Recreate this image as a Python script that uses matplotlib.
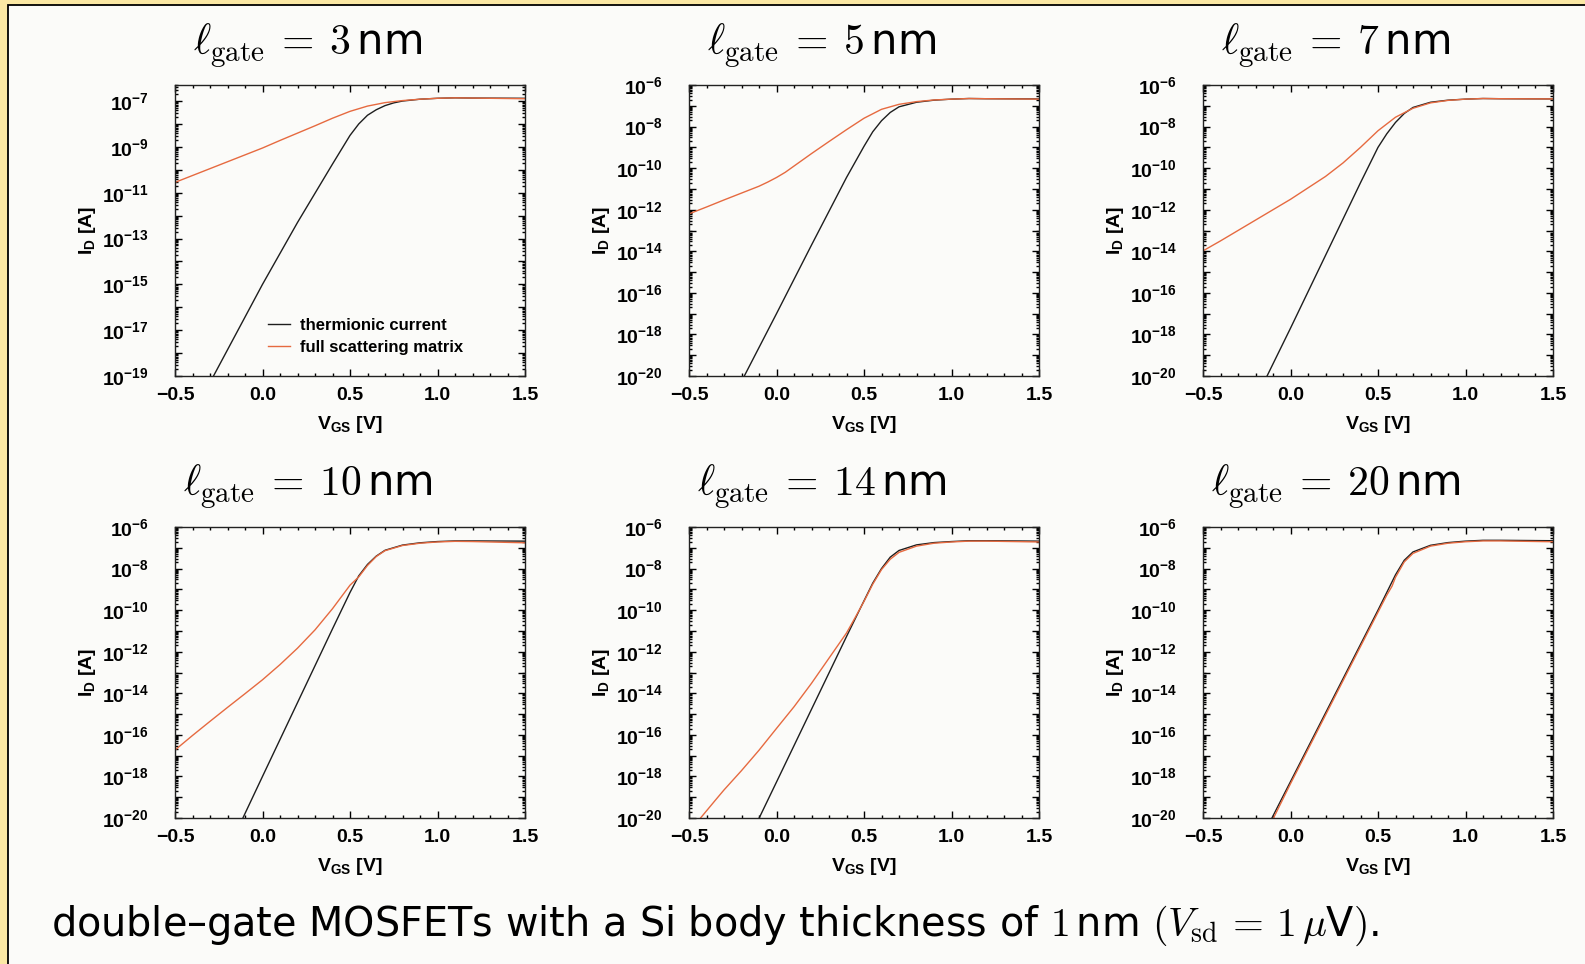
import numpy as np
import matplotlib
matplotlib.use("Agg")
import matplotlib.pyplot as plt
from matplotlib.patches import Rectangle
from matplotlib.ticker import LogLocator, MultipleLocator, FuncFormatter, NullFormatter

# -------------------------
# Data (log10 of I_D in A vs V_GS in V)
# -------------------------
GATE_LENGTHS = [3, 5, 7, 10, 14, 20]

V_T3 = [-0.28, 0.0, 0.2, 0.4, 0.46, 0.5, 0.55, 0.6, 0.65, 0.7, 0.75, 0.8, 0.9, 1.0, 1.1, 1.2, 1.5]
LOG_T3 = [-19.0, -15.0, -12.3, -9.75, -9.0, -8.5, -8.0, -7.62, -7.38, -7.2, -7.08, -7.0, -6.92, -6.88, -6.86, -6.87, -6.88]
V_S3 = [-0.5, -0.4, -0.3, -0.2, -0.1, 0.0, 0.1, 0.2, 0.3, 0.4, 0.5, 0.6, 0.7, 0.8, 0.9, 1.0, 1.1, 1.2, 1.5]
LOG_S3 = [-10.55, -10.25, -9.95, -9.65, -9.35, -9.05, -8.72, -8.4, -8.08, -7.75, -7.45, -7.22, -7.07, -6.98, -6.92, -6.88, -6.86, -6.87, -6.9]

V_T5 = [-0.184, 0.0, 0.2, 0.4, 0.5, 0.55, 0.6, 0.65, 0.7, 0.8, 0.9, 1.0, 1.1, 1.2, 1.5]
LOG_T5 = [-20.0, -17.0, -13.7, -10.45, -8.95, -8.25, -7.72, -7.32, -7.05, -6.83, -6.73, -6.68, -6.65, -6.66, -6.67]
V_S5 = [-0.5, -0.4, -0.3, -0.2, -0.1, -0.05, 0.0, 0.05, 0.1, 0.2, 0.3, 0.4, 0.5, 0.6, 0.7, 0.8, 0.9, 1.0, 1.1, 1.2, 1.5]
LOG_S5 = [-12.2, -11.87, -11.53, -11.2, -10.87, -10.67, -10.45, -10.2, -9.9, -9.3, -8.72, -8.15, -7.6, -7.17, -6.93, -6.8, -6.72, -6.68, -6.65, -6.66, -6.68]

V_T7 = [-0.134, 0.0, 0.2, 0.4, 0.5, 0.55, 0.6, 0.65, 0.7, 0.8, 0.9, 1.0, 1.1, 1.2, 1.5]
LOG_T7 = [-20.0, -17.7, -14.2, -10.7, -9.0, -8.35, -7.8, -7.37, -7.08, -6.83, -6.73, -6.68, -6.65, -6.66, -6.67]
V_S7 = [-0.5, -0.4, -0.3, -0.2, -0.1, 0.0, 0.1, 0.2, 0.3, 0.4, 0.5, 0.6, 0.7, 0.8, 0.9, 1.0, 1.1, 1.2, 1.5]
LOG_S7 = [-13.98, -13.5, -13.0, -12.5, -12.0, -11.5, -10.95, -10.4, -9.75, -9.0, -8.2, -7.55, -7.12, -6.86, -6.74, -6.68, -6.65, -6.66, -6.67]

V_T10 = [-0.112, 0.0, 0.2, 0.4, 0.5, 0.55, 0.6, 0.65, 0.7, 0.8, 0.9, 1.0, 1.1, 1.2, 1.5]
LOG_T10 = [-20.0, -18.0, -14.45, -10.9, -9.15, -8.35, -7.8, -7.4, -7.12, -6.87, -6.76, -6.7, -6.67, -6.67, -6.68]
V_S10 = [-0.5, -0.4, -0.3, -0.2, -0.1, 0.0, 0.1, 0.2, 0.3, 0.4, 0.5, 0.55, 0.6, 0.65, 0.7, 0.8, 0.9, 1.0, 1.1, 1.2, 1.5]
LOG_S10 = [-16.73, -16.03, -15.35, -14.68, -14.02, -13.35, -12.62, -11.83, -10.95, -9.93, -8.8, -8.4, -7.85, -7.42, -7.14, -6.89, -6.78, -6.72, -6.69, -6.7, -6.76]

V_T14 = [-0.099, 0.0, 0.2, 0.4, 0.5, 0.55, 0.6, 0.65, 0.7, 0.8, 0.9, 1.0, 1.1, 1.2, 1.5]
LOG_T14 = [-20.0, -18.27, -14.77, -11.27, -9.55, -8.7, -8.0, -7.45, -7.13, -6.86, -6.75, -6.7, -6.66, -6.66, -6.68]
V_S14 = [-0.434, -0.35, -0.3, -0.2, -0.1, 0.0, 0.1, 0.2, 0.3, 0.4, 0.45, 0.5, 0.55, 0.6, 0.65, 0.7, 0.8, 0.9, 1.0, 1.1, 1.2, 1.5]
LOG_S14 = [-20.0, -19.15, -18.65, -17.72, -16.74, -15.69, -14.65, -13.52, -12.31, -11.1, -10.35, -9.58, -8.75, -8.05, -7.55, -7.22, -6.92, -6.78, -6.72, -6.68, -6.68, -6.72]

V_T20 = [-0.106, 0.0, 0.2, 0.4, 0.5, 0.55, 0.6, 0.65, 0.7, 0.8, 0.9, 1.0, 1.1, 1.2, 1.5]
LOG_T20 = [-20.0, -18.25, -14.95, -11.65, -10.0, -9.15, -8.3, -7.6, -7.2, -6.88, -6.75, -6.68, -6.64, -6.64, -6.66]
V_S20 = [-0.097, 0.0, 0.2, 0.4, 0.5, 0.55, 0.58, 0.6, 0.65, 0.7, 0.8, 0.9, 1.0, 1.1, 1.2, 1.5]
LOG_S20 = [-20.0, -18.35, -15.05, -11.75, -10.1, -9.28, -8.85, -8.42, -7.68, -7.27, -6.92, -6.78, -6.71, -6.67, -6.67, -6.71]

THERMIONIC = [(V_T3, LOG_T3), (V_T5, LOG_T5), (V_T7, LOG_T7),
              (V_T10, LOG_T10), (V_T14, LOG_T14), (V_T20, LOG_T20)]
SCATTERING = [(V_S3, LOG_S3), (V_S5, LOG_S5), (V_S7, LOG_S7),
              (V_S10, LOG_S10), (V_S14, LOG_S14), (V_S20, LOG_S20)]

# y-range (log10) per panel; first panel uses odd decades
Y_RANGES = [(-19, -6.3), (-20, -6), (-20, -6), (-20, -6), (-20, -6), (-20, -6)]
LEGEND_LABELS = ["thermionic current", "full scattering matrix"]
CAPTION = (r"double–gate MOSFETs with a Si body thickness of $1\,$nm "
           r"$(\mathit{V}_{\rm sd}\,=\,1\,\mathit{\mu}$V$)$.")

# -------------------------
# Style
# -------------------------
W, H = 1585, 964
YELLOW = "#fbe8a4"
PAPER = "#fbfbf9"
ORANGE = "#e66a40"
BLACK = "#1e1e1e"

plt.rcParams.update({
    "mathtext.fontset": "custom",
    "mathtext.rm": "Liberation Sans:bold",
    "mathtext.bf": "Liberation Sans:bold",
    "mathtext.it": "Liberation Sans:bold",
    "mathtext.default": "rm",
    "font.family": "Liberation Sans",
    "font.weight": "bold",
    "axes.unicode_minus": True,
})

fig = plt.figure(figsize=(W / 100, H / 100), dpi=100, facecolor=YELLOW)
# inner slide area with thin black edge on the left/top
fig.patches.append(Rectangle((8 / W, -0.01), 1.02, 1 - 5 / H + 0.01, transform=fig.transFigure,
                             facecolor=PAPER, edgecolor="black", linewidth=1.3, zorder=-10))

LEFTS = [175, 689, 1203]
TOPS = [85, 527]
AX_W, AX_H = 350, 291
TITLE_Y = [46, 487]


def fmt_factory(parity):
    def f(y, pos):
        e = int(round(np.log10(y)))
        if e % 2 == parity:
            return r"$10^{%d}$" % e
        return ""
    return f


for i, gl in enumerate(GATE_LENGTHS):
    r, c = divmod(i, 3)
    left, top = LEFTS[c], TOPS[r]
    ax = fig.add_axes([left / W, 1 - (top + AX_H) / H, AX_W / W, AX_H / H])
    ax.set_facecolor(PAPER)

    vt, lt = THERMIONIC[i]
    vs, ls = SCATTERING[i]
    ax.semilogy(vt, 10 ** np.array(lt), color=BLACK, lw=1.0, label=LEGEND_LABELS[0])
    ax.semilogy(vs, 10 ** np.array(ls), color=ORANGE, lw=1.0, label=LEGEND_LABELS[1])

    lo, hi = Y_RANGES[i]
    ax.set_xlim(-0.5, 1.5)
    ax.set_ylim(10.0 ** lo, 10.0 ** hi)

    ax.xaxis.set_major_locator(MultipleLocator(0.5))
    ax.xaxis.set_minor_locator(MultipleLocator(0.1))
    ax.xaxis.set_major_formatter(FuncFormatter(lambda x, p: ("%.1f" % x).replace("-", "\u2212")))
    ax.yaxis.set_major_locator(LogLocator(base=10, numticks=100))
    ax.yaxis.set_minor_locator(LogLocator(base=10, subs=np.arange(2, 10), numticks=100))
    ax.yaxis.set_major_formatter(FuncFormatter(fmt_factory(lo % 2)))
    ax.yaxis.set_minor_formatter(NullFormatter())

    ax.tick_params(which="both", direction="in", top=True, right=True, labelsize=14, width=1.0)
    ax.tick_params(which="major", length=5)
    ax.tick_params(which="minor", length=2.5)
    ax.tick_params(axis="x", which="major", pad=8)
    ax.tick_params(axis="y", which="major", pad=19)
    for sp in ax.spines.values():
        sp.set_linewidth(1.0)
        sp.set_color("#222222")

    ax.set_xlabel(r"$V_{GS}$ [V]", fontsize=14, fontweight="bold", labelpad=7)
    ax.set_ylabel(r"$I_{D}$ [A]", fontsize=14, fontweight="bold", labelpad=3)

    fig.text((left + AX_W / 2 - 42) / W, 1 - TITLE_Y[r] / H,
             r"$\ell_{\rm gate}\:=\:%d\,$nm" % gl, fontsize=30, ha="center", va="center",
             family="DejaVu Sans", fontweight="normal", math_fontfamily="cm")

    if i == 0:
        ax.legend(loc="upper left", bbox_to_anchor=(0.266, 0.2), frameon=False,
                  fontsize=12, handlelength=1.3, handletextpad=0.6, borderpad=0,
                  borderaxespad=0, labelspacing=0.45)

fig.text(51 / W, 1 - 926 / H, CAPTION, fontsize=28.6, ha="left", va="center",
         family="DejaVu Sans", fontweight="normal", math_fontfamily="cm")

fig.savefig("out.png", dpi=100, facecolor=YELLOW)
